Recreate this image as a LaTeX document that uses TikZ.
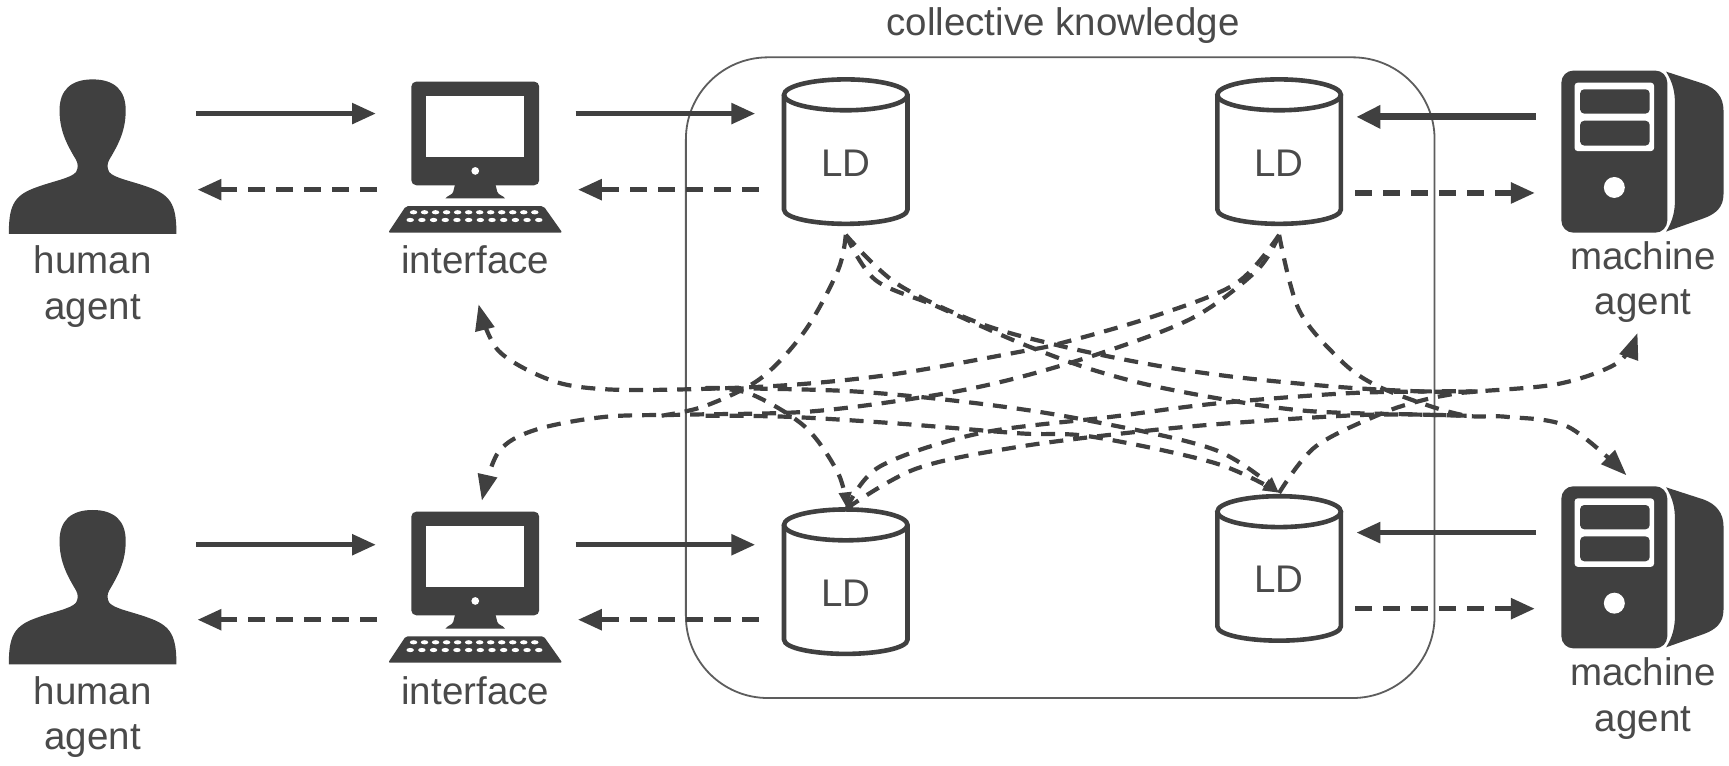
\documentclass[tikz,border=0pt]{standalone}
\usepackage{fontspec}
\setmainfont{Liberation Sans}
\usetikzlibrary{arrows.meta}
\definecolor{ink}{HTML}{404040}
\definecolor{txt}{HTML}{4A4A4A}
\tikzset{
  x=1.1027pt,y=-1.1027pt,
  lab/.style={text=txt,font=\fontsize{38.5}{46}\selectfont,inner sep=0pt},
  solidarrow/.style={draw=ink,line width=5.4pt,-{Triangle[length=24pt,width=20pt]}},
  thickarrow/.style={draw=ink,line width=7pt,-{Triangle[length=24pt,width=22pt]}},
  dasharrow/.style={draw=ink,line width=5.4pt,dash pattern=on 17pt off 11pt,-{Triangle[length=24pt,width=20pt]}},
  curvearrow/.style={draw=ink,line width=4.2pt,dash pattern=on 14pt off 10pt,line cap=butt,-{Triangle[length=26pt,width=19pt]}},
  curvesmall/.style={draw=ink,line width=4.2pt,dash pattern=on 14pt off 10pt,line cap=butt,-{Triangle[length=16pt,width=12pt]}},
  curveplain/.style={draw=ink,line width=4.2pt,dash pattern=on 14pt off 10pt},
  cyl/.style={draw=ink,line width=4.6pt,fill=white},
  person/.pic={
    \fill[ink] (8,212) .. controls (8,188) and (12,178) .. (30,171)
      .. controls (48,164) and (64,162) .. (69,156) .. controls (71,152) and (71,149) .. (69,145)
      .. controls (60,130) and (54,118) .. (54,100) .. controls (54,82) and (64,72) .. (84,72)
      .. controls (104,72) and (114,82) .. (114,100) .. controls (114,118) and (108,130) .. (99,145)
      .. controls (97,149) and (97,152) .. (99,156) .. controls (104,162) and (120,164) .. (138,171)
      .. controls (156,178) and (160,188) .. (160,212) -- cycle;
  },
  monitor/.pic={
    \fill[ink,rounded corners=5pt] (373,74) rectangle (489,168);
    \fill[white] (386,87) rectangle (475,142);
    \fill[white] (431,155) circle (3.5);
    \fill[ink] (413,166) -- (449,166) -- (451,174) .. controls (452,177) and (456,177) .. (458,180) -- (404,180) .. controls (406,177) and (410,177) .. (411,174) -- cycle;
    \fill[ink,rounded corners=2pt] (368,187) -- (493,187) -- (510,211) -- (352,211) -- cycle;
    \foreach \i in {0,...,11}{
      \fill[white] (375+\i*10,192.5) ellipse (3.4 and 1.9);
      \fill[white] (372+\i*10.6,199.5) ellipse (3.4 and 1.9);
    }
  },
  server/.pic={
    \fill[ink,rounded corners=12pt] (1416,64) rectangle (1512,211);
    \fill[white,rounded corners=3pt] (1428,75) rectangle (1500,137);
    \fill[ink,rounded corners=4pt] (1433,81) rectangle (1496,103);
    \fill[ink,rounded corners=4pt] (1433,109.5) rectangle (1496,132);
    \fill[white] (1464,170) circle (9.5);
    \fill[ink] (1511,65) -- (1545,76) .. controls (1556,80) and (1563,88) .. (1563,100)
      -- (1563,176) .. controls (1563,188) and (1556,194) .. (1545,198) -- (1511,210)
      .. controls (1517,200) and (1519,192) .. (1519,180) -- (1519,95) .. controls (1519,83) and (1517,75) .. (1511,65) -- cycle;
  },
  dbcyl/.pic={
    \path[cyl] (-56,-54) -- (-56,50) .. controls (-56,58) and (-28,63) .. (0,63) .. controls (28,63) and (56,58) .. (56,50) -- (56,-54);
    \draw[cyl] (0,-54) ellipse (56 and 14);
  }
}
\begin{document}
\begin{tikzpicture}
\useasboundingbox (0,0) rectangle (1568,694);
\fill[white] (0,0) rectangle (1568,694);

% collective knowledge frame
\node[draw=ink!85,line width=1.8pt,rounded corners=82pt,minimum width=748.7pt,minimum height=640.7pt,inner sep=0pt] (frame) at (961.5,342.5) {};
\node[lab] (title) at (964,23) {collective knowledge};

% icons
\pic at (0,0) {person};
\pic at (0,390.5) {person};
\pic at (0,0) {monitor};
\pic at (0,390) {monitor};
\pic at (0,0) {server};
\pic at (0,377) {server};

% labels
\node[lab] (h1a) at (84,236) {human};
\node[lab] (h1b) at (84,282) {agent};
\node[lab] (h2a) at (84,626) {human};
\node[lab] (h2b) at (84,672) {agent};
\node[lab] (if1) at (431,236) {interface};
\node[lab] (if2) at (431,626) {interface};
\node[lab] (m1a) at (1490,232) {machine};
\node[lab] (m1b) at (1490,278) {agent};
\node[lab] (m2a) at (1490,609) {machine};
\node[lab] (m2b) at (1490,656) {agent};

% anchors of connectors
\coordinate (tlb) at (767,213);
\coordinate (trb) at (1160,213);
\coordinate (blt) at (768,461);
\coordinate (brt) at (1160,447);
\coordinate (i1t) at (434,276);
\coordinate (i2t) at (437,454);
\coordinate (m1t) at (1485,302);
\coordinate (m2t) at (1475,431);
\coordinate (m1j) at (1340,355);
\coordinate (m2j) at (1330,377);

% mesh of dashed curves
\draw[curvearrow] plot[smooth,tension=.55] coordinates {(trb) (1121,257) (1046,287) (963,311) (925,319) (813,339) (718,349) (625,353) (549,353) (500,345) (452,318) (i1t)};
\draw[curvearrow] plot[smooth,tension=.55] coordinates {(trb) (1140,245) (1084,287) (1008,317) (925,342) (850,358) (737,373) (625,376) (549,378) (485,390) (452,410) (i2t)};
\draw[curveplain] plot[smooth,tension=.55] coordinates {(tlb) (760,245) (730,300) (690,343) (640,368) (600,377)};
\draw[curvesmall] plot[smooth,tension=.55] coordinates {(640,352) (680,357) (730,387) (760,429) (blt)};
\draw[curvesmall] plot[smooth,tension=.55] coordinates {(640,352) (662,352) (775,355) (888,366) (985,381) (1102,408) (brt)};
\draw[curvesmall] plot[smooth,tension=.55] coordinates {(640,377) (715,378) (813,384) (925,393) (990,396) (1102,420) (brt)};
\draw[curveplain] plot[smooth,tension=.55] coordinates {(tlb) (813,257) (888,293) (963,314) (1046,331) (1121,342) (1215,351) (1290,355) (m1j)};
\draw[curveplain] plot[smooth,tension=.55] coordinates {(tlb) (794,254) (850,278) (925,311) (993,336) (1065,354) (1178,372) (1290,376) (m2j)};
\draw[curvearrow] plot[smooth,tension=.55] coordinates {(trb) (1178,281) (1215,326) (1245,348) (1290,366) (m2j) (1366,378) (1422,387) (m2t)};
\draw[curvearrow] plot[smooth,tension=.55] coordinates {(brt) (1193,405) (1253,375) (1290,363) (1320,357) (m1j) (1414,348) (1467,329) (m1t)};
\draw[curveplain] plot[smooth,tension=.55] coordinates {(blt) (798,423) (888,393) (1008,378) (1102,366) (1215,357) (1290,355) (m1j)};
\draw[curveplain] plot[smooth,tension=.55] coordinates {(blt) (831,425) (925,405) (1046,390) (1140,382) (1245,376) (m2j)};

% databases
\pic at (767,140) {dbcyl};
\pic at (1160,140) {dbcyl};
\pic at (767,530) {dbcyl};
\pic at (1160,518) {dbcyl};
\node[lab] (ld1) at (767,148) {LD};
\node[lab] (ld2) at (1160,148) {LD};
\node[lab] (ld3) at (767,538) {LD};
\node[lab] (ld4) at (1160,525) {LD};

% straight arrows, top
\coordinate (a1) at (178,103); \coordinate (a2) at (341,103);
\coordinate (a3) at (342,172); \coordinate (a4) at (179,172);
\coordinate (a5) at (522,103); \coordinate (a6) at (685,103);
\coordinate (a7) at (688,172); \coordinate (a8) at (524,172);
\coordinate (a9) at (1393,106); \coordinate (a10) at (1230,106);
\coordinate (a11) at (1229,175); \coordinate (a12) at (1392,175);
\draw[solidarrow] (a1) -- (a2);
\draw[dasharrow] (a3) -- (a4);
\draw[solidarrow] (a5) -- (a6);
\draw[dasharrow] (a7) -- (a8);
\draw[thickarrow] (a9) -- (a10);
\draw[dasharrow] (a11) -- (a12);

% straight arrows, bottom
\coordinate (b1) at (178,494); \coordinate (b2) at (341,494);
\coordinate (b3) at (342,562); \coordinate (b4) at (179,562);
\coordinate (b5) at (522,494); \coordinate (b6) at (685,494);
\coordinate (b7) at (688,562); \coordinate (b8) at (524,562);
\coordinate (b9) at (1393,483); \coordinate (b10) at (1230,483);
\coordinate (b11) at (1229,552); \coordinate (b12) at (1392,552);
\draw[solidarrow] (b1) -- (b2);
\draw[dasharrow] (b3) -- (b4);
\draw[solidarrow] (b5) -- (b6);
\draw[dasharrow] (b7) -- (b8);
\draw[solidarrow] (b9) -- (b10);
\draw[dasharrow] (b11) -- (b12);
\end{tikzpicture}
\end{document}
